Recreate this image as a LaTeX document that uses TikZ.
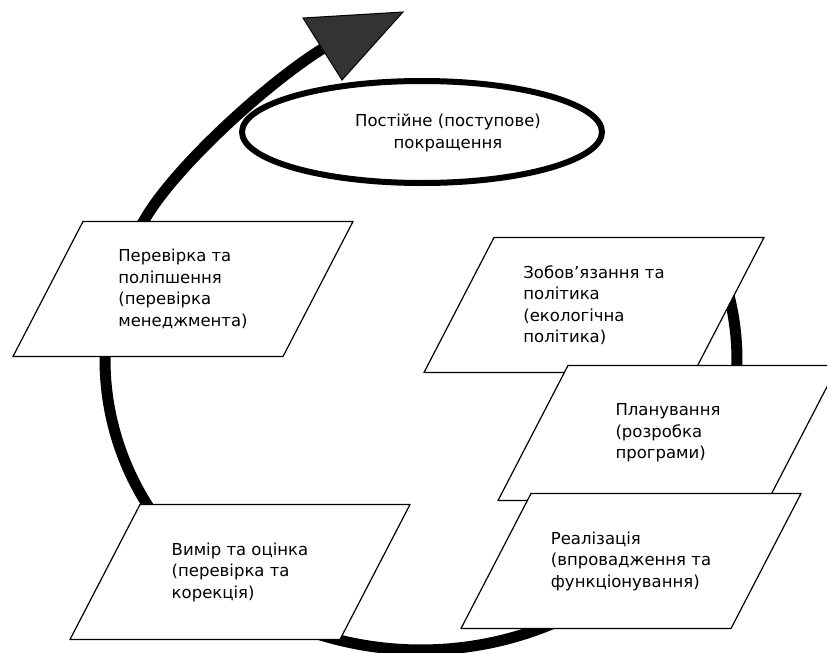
\documentclass[tikz,border=0pt]{standalone}
\usepackage{fontspec}
\setmainfont{DejaVu Sans}
\usetikzlibrary{shapes.geometric}

% parallelogram frame with its text node: name, x, y, text
\newcommand{\stagebox}[4]{%
  \filldraw[stageframe] (#2-100,#3-67.5) -- (#2+170,#3-67.5) -- (#2+100,#3+67.5) -- (#2-170,#3+67.5) -- cycle;
  \node[stagetext] (#1) at (#2,#3) {#4};}

\begin{document}
\begin{tikzpicture}[x=1pt,y=-1pt,
    stageframe/.style={draw=black, fill=white, line width=1.2pt, line join=round},
    stagetext/.style={align=left, inner sep=0pt, font=\fontsize{16.5}{21.5}\selectfont},
    shaft/.style={line width=11pt, black}]

  \useasboundingbox (0,0) rectangle (827,653);

  % the loop goes under the boxes
  \draw[shaft] plot[domain=-13:210, samples=60, smooth] ({421+316*cos(\x)}, {360+290*sin(\x)})
    .. controls (179,164) and (265,85) .. (322,49);

  \coordinate (headL) at (303,18);
  \coordinate (head)  at (403,12);
  \coordinate (headR) at (342,80);
  \fill[black!80, draw=black, line width=1pt] (headL) -- (head) -- (headR) -- cycle;

  \node[ellipse, draw, line width=6pt, minimum width=360pt, minimum height=102pt] (goal) at (422,132) {};
  \node[font=\fontsize{16.5}{21.5}\selectfont, align=center] (goaltext) at (448,133)
    {Постійне (поступове)\\покращення};

  \stagebox{check}{183}{289}{Перевірка та\\поліпшення\\(перевірка\\менеджмента)}
  \stagebox{policy}{594}{305}{Зобов’язання та\\політика\\(екологічна\\політика)}
  \stagebox{plan}{668}{433}{Планування\\(розробка\\програми)}
  \stagebox{impl}{631}{561}{Реалізація\\(впровадження та\\функціонування)}
  \stagebox{measure}{240}{572}{Вимір та оцінка\\(перевірка та\\корекція)}

\end{tikzpicture}
\end{document}
